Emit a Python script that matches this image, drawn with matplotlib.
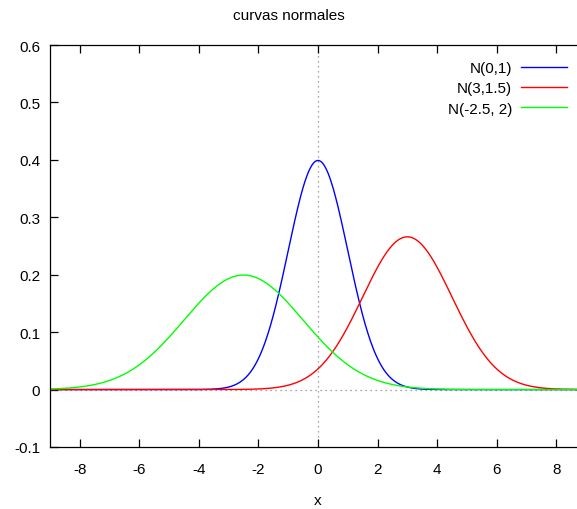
import numpy as np
import matplotlib
matplotlib.use("Agg")
import matplotlib.pyplot as plt

plt.rcParams['font.family'] = ['Liberation Sans', 'DejaVu Sans']

# Data: parameters of the normal curves (from the legend)
labels = ["N(0,1)", "N(3,1.5)", "N(-2.5, 2)"]
means = [0.0, 3.0, -2.5]
sigmas = [1.0, 1.5, 2.0]
colors = ["#0000ff", "#ff0000", "#00ff00"]

x_ticks = [-8, -6, -4, -2, 0, 2, 4, 6, 8]
y_ticks = [-0.1, 0, 0.1, 0.2, 0.3, 0.4, 0.5, 0.6]
y_tick_labels = ["-0.1", "0", "0.1", "0.2", "0.3", "0.4", "0.5", "0.6"]
x_min, x_max = -9, 9
y_min, y_max = -0.1, 0.6

W, H = 577, 510
fig = plt.figure(figsize=(W / 100, H / 100), dpi=100)
left, right, top, bottom = 50 / W, 586 / W, 1 - 46 / H, 1 - 448 / H
ax = fig.add_axes([left, bottom, right - left, top - bottom])

xs = np.linspace(x_min, x_max, 1000)
# zero axes
ax.axhline(0, color="#888888", lw=0.9, ls=(0, (1, 3)), zorder=1)
ax.axvline(0, color="#888888", lw=0.9, ls=(0, (1, 3)), zorder=1)

for lab, m, s, c in zip(labels, means, sigmas, colors):
    ys = np.exp(-0.5 * ((xs - m) / s) ** 2) / (s * np.sqrt(2 * np.pi))
    ax.plot(xs, ys, color=c, lw=1.0, label=lab, zorder=2)

ax.set_xlim(x_min, x_max)
ax.set_ylim(y_min, y_max)
ax.set_xticks(x_ticks)
ax.set_xticklabels([str(t) for t in x_ticks])
ax.set_yticks(y_ticks)
ax.set_yticklabels(y_tick_labels)
ax.tick_params(direction="in", length=6, width=0.9, labelsize=11,
               top=True, right=True, colors="black")
ax.tick_params(axis="x", pad=11)
ax.tick_params(axis="y", pad=7)
for sp in ax.spines.values():
    sp.set_linewidth(0.9)

ax.set_xlabel("x", fontsize=11, labelpad=12)
fig.text(0.5, 1 - 16 / H, "curvas normales", ha="center", va="center", fontsize=11)

leg = ax.legend(loc="upper right", bbox_to_anchor=(567 / W, 1 - 62 / H),
                bbox_transform=fig.transFigure, frameon=False, markerfirst=False,
                fontsize=11, handlelength=3.0, handletextpad=0.6,
                labelspacing=0.42, borderpad=0, borderaxespad=0)

fig.savefig("out.png", dpi=100)
